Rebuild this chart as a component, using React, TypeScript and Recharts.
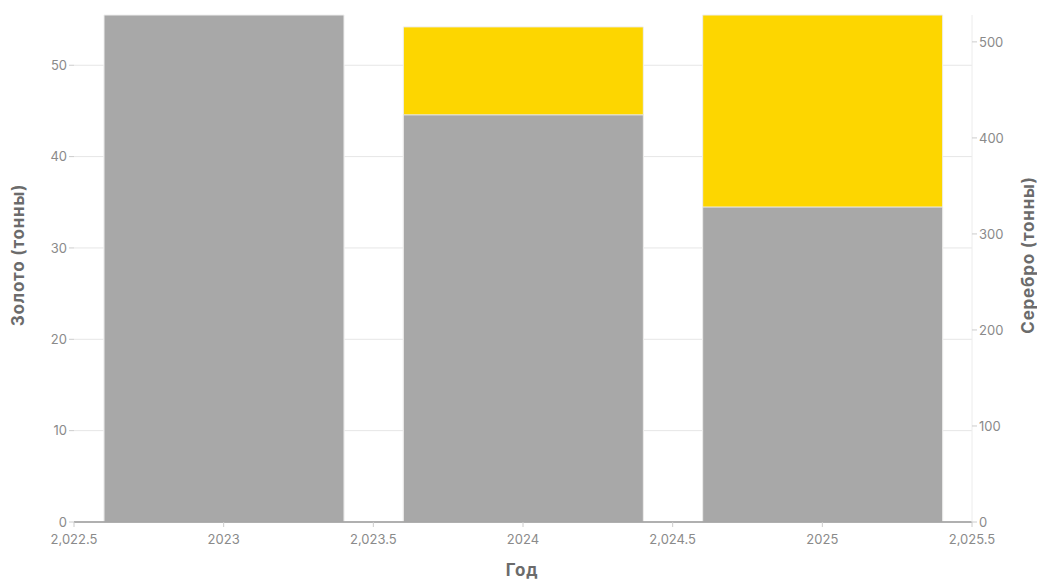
import * as React from "react";
import { ComposedChart, Bar, XAxis, YAxis, CartesianGrid } from "recharts";

const years = [2023, 2024, 2025];
const gold = [50, 54.2, 55.5];
const silver = [528, 424, 328];
const xTicks = [2022.5, 2023, 2023.5, 2024, 2024.5, 2025, 2025.5];
const goldTicks = [0, 10, 20, 30, 40, 50];
const silverTicks = [0, 100, 200, 300, 400, 500];

const data = years.map((year, i) => ({ year, gold: gold[i], silver: silver[i] }));

const FONT = "Inter, 'Liberation Sans', sans-serif";
const tickStyle = { fill: "#8a8a8a", fontSize: 13, fontFamily: FONT };
const titleStyle = { fill: "#6b6b6b", fontSize: 17, fontWeight: 700, fontFamily: FONT, letterSpacing: 0.8 };

const fmtYear = (v: number) => (Number.isInteger(v) ? String(v) : v.toLocaleString("en-US"));

function Title({ x, y, angle, text }: { x: number; y: number; angle: number; text: string }) {
  return (
    <text
      transform={`translate(${x},${y}) rotate(${angle})`}
      textAnchor="middle"
      dominantBaseline="central"
      style={titleStyle}
    >
      {text}
    </text>
  );
}

export default function App() {
  return (
    <div style={{ width: 1037, height: 580, background: "#fff", overflow: "hidden" }}>
      <style>{`html, body { margin: 0; padding: 0; overflow: hidden; }`}</style>
      <ComposedChart
        width={1037}
        height={580}
        data={data}
        margin={{ top: 15, right: 0, bottom: 0, left: 0 }}
        barGap={-240}
      >
        <CartesianGrid yAxisId="left" vertical={false} stroke="#e6e6e6" syncWithTicks />
        <XAxis
          dataKey="year"
          type="number"
          domain={[2022.5, 2025.5]}
          ticks={xTicks}
          tickFormatter={fmtYear}
          tick={tickStyle}
          tickSize={5}
          tickMargin={8}
          tickLine={{ stroke: "#cccccc" }}
          axisLine={{ stroke: "#9a9a9a", strokeWidth: 1.5 }}
          height={58}
          label={{ content: () => <Title x={522} y={570} angle={0} text="Год" /> }}
        />
        <YAxis
          yAxisId="left"
          orientation="left"
          domain={[0, "dataMax"]}
          ticks={goldTicks}
          tick={tickStyle}
          tickSize={5}
          tickLine={{ stroke: "#cccccc" }}
          axisLine={false}
          width={74}
          label={{ content: () => <Title x={18} y={255} angle={-90} text="Золото (тонны)" /> }}
        />
        <YAxis
          yAxisId="right"
          orientation="right"
          domain={[0, "dataMax"]}
          ticks={silverTicks}
          tick={tickStyle}
          tickSize={5}
          tickLine={{ stroke: "#cccccc" }}
          axisLine={{ stroke: "#ececec" }}
          width={65}
          label={{ content: () => <Title x={1028} y={255} angle={-90} text="Серебро (тонны)" /> }}
        />
        <Bar
          yAxisId="left"
          dataKey="gold"
          fill="#fdd600"
          stroke="#eeeeee"
          strokeWidth={1}
          barSize={240}
          isAnimationActive={false}
        />
        <Bar
          yAxisId="right"
          dataKey="silver"
          fill="#a8a8a8"
          stroke="#eeeeee"
          strokeWidth={1}
          barSize={240}
          isAnimationActive={false}
        />
      </ComposedChart>
    </div>
  );
}
